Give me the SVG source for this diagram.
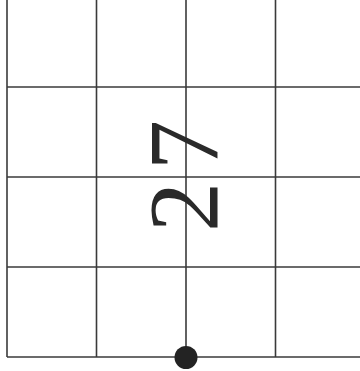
<svg xmlns="http://www.w3.org/2000/svg" width="360" height="371" viewBox="0 0 360 371">
  <style>
    .grid { stroke: #3a3a3a; stroke-width: 1.6; fill: none; }
    .digit { font-family: "Liberation Serif", "Times New Roman", serif; font-size: 100px; fill: #2a2a2a; }
  </style>
  <rect x="0" y="0" width="360" height="371" fill="#ffffff"/>
  <g id="grid">
    <line class="grid" x1="7" y1="0" x2="7" y2="357"/>
    <line class="grid" x1="96.5" y1="0" x2="96.5" y2="357"/>
    <line class="grid" x1="186" y1="0" x2="186" y2="357"/>
    <line class="grid" x1="275.5" y1="0" x2="275.5" y2="357"/>
    <line class="grid" x1="7" y1="87" x2="360" y2="87"/>
    <line class="grid" x1="7" y1="177" x2="360" y2="177"/>
    <line class="grid" x1="7" y1="267" x2="360" y2="267"/>
    <line class="grid" x1="7" y1="357" x2="360" y2="357"/>
  </g>
  <g id="label">
    <text class="digit" transform="translate(217,170) rotate(-90)">7</text>
    <text class="digit" transform="translate(217,232) rotate(-90)">2</text>
  </g>
  <g id="dot">
    <circle cx="186" cy="357.5" r="11.5" fill="#232323"/>
  </g>
</svg>
